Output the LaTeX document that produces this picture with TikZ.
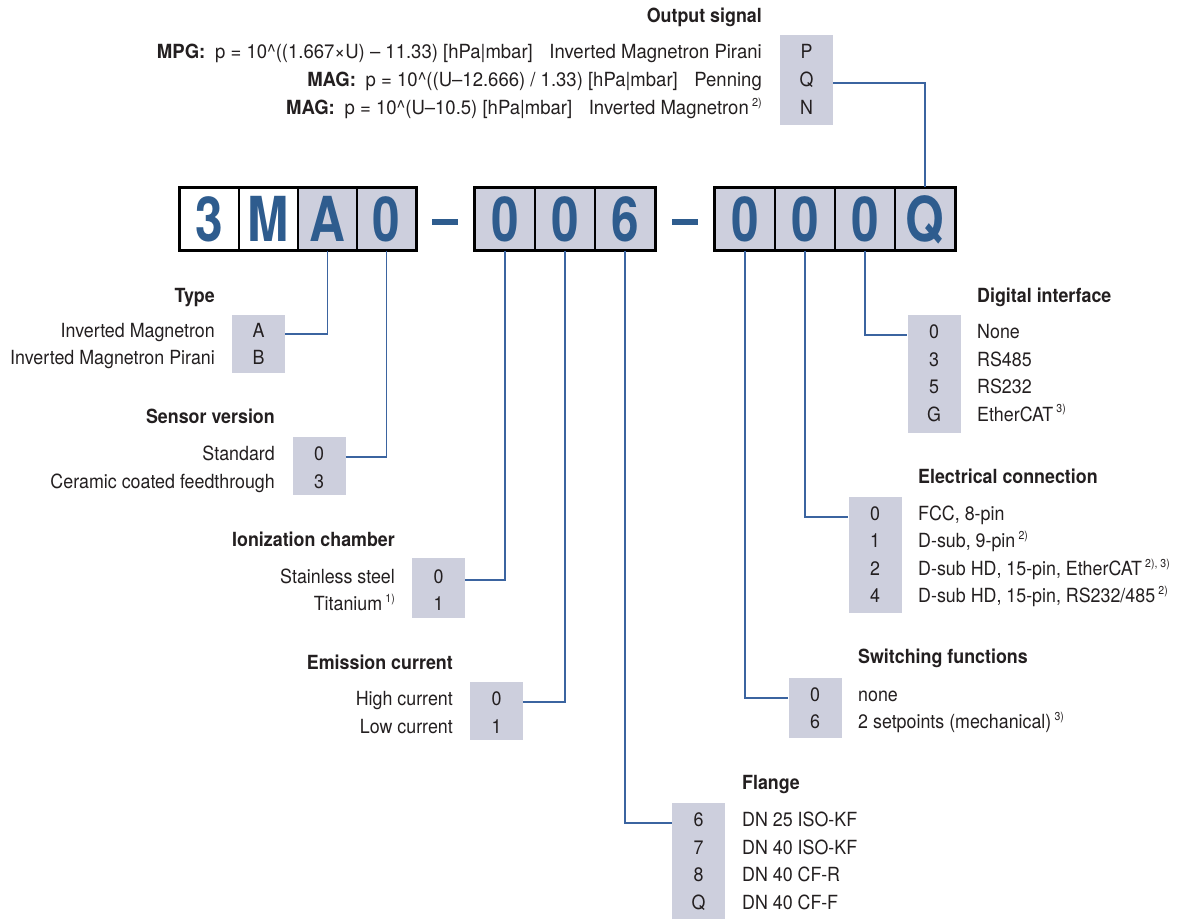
\documentclass[tikz,border=0pt]{standalone}
\usepackage{fontspec}
\setmainfont{TeX Gyre Heros}[FakeStretch=0.915]
\newfontfamily\formfam{TeX Gyre Heros}[FakeStretch=0.95]
\newfontfamily\codefam{TeX Gyre Heros}[FakeStretch=0.8]
\definecolor{optfill}{RGB}{205,207,221}
\definecolor{codeblue}{RGB}{46,92,142}
\definecolor{linecol}{RGB}{59,100,160}
\definecolor{txt}{RGB}{35,31,32}
\newcommand\itemfont{\fontsize{19.5}{22}\selectfont}
\newcommand\fnote[1]{\,\raisebox{0.42em}{\fontsize{11.5}{11.5}\selectfont #1}}
\tikzset{
  opt/.style={fill=optfill, draw=none, minimum width=53pt, inner sep=0pt},
  lbl/.style={inner sep=0pt, text=txt, font=\itemfont, text height=0.72em, text depth=0pt, yshift=-3pt},
  flbl/.style={lbl, font=\formfam\itemfont},
  hdr/.style={lbl, font=\itemfont\bfseries},
  conn/.style={draw=linecol, line width=1.2pt},
  cell/.style={draw=black, line width=1.3pt, fill=optfill, minimum width=59pt, minimum height=62pt,
    inner sep=0pt, text=codeblue, font=\codefam\fontsize{62}{62}\selectfont\bfseries,
    text height=44pt, text depth=0pt},
  wcell/.style={cell, fill=white},
  grp/.style={draw=black, line width=3pt},
  dashbar/.style={fill=codeblue, draw=none, minimum width=26pt, minimum height=6pt, inner sep=0pt},
}
\begin{document}
\begin{tikzpicture}[x=1pt,y=-1pt]
\useasboundingbox (0,0) rectangle (1179,919);

% ---- code boxes
\node[wcell] (c1) at (209.5,219) {3};
\node[wcell] (c2) at (268.5,219) {M};
\node[cell] (c3) at (327.5,219) {A};
\node[cell] (c4) at (386.5,219) {0};
\draw[grp] (c1.north west) rectangle (c4.south east);
\node[dashbar] (d1) at (445,222) {};
\node[cell] (c5) at (505,219) {0};
\node[cell] (c6) at (565,219) {0};
\node[cell] (c7) at (625,219) {6};
\draw[grp] (c5.north west) rectangle (c7.south east);
\node[dashbar] (d2) at (685,222) {};
\node[cell] (c8) at (745,219) {0};
\node[cell] (c9) at (805,219) {0};
\node[cell] (c10) at (865,219) {0};
\node[cell] (c11) at (925,219) {Q};
\draw[grp] (c8.north west) rectangle (c11.south east);

% ---- Output signal
\node[hdr, anchor=east] (hout) at (762,16) {Output signal};
\node[opt, minimum height=90pt] (outbox) at (806.5,80) {};
\node[lbl] (oP) at (806.5,52) {P};
\node[lbl] (oQ) at (806.5,80) {Q};
\node[lbl] (oN) at (806.5,108) {N};
\node[flbl, anchor=east] (t1) at (762,52) {\textbf{MPG:}\hspace{0.5em}p = 10\textasciicircum((1.667×U) – 11.33) [hPa\textbar mbar]\hspace{0.85em}Inverted Magnetron Pirani};
\node[flbl, anchor=east] (t2) at (762,80) {\textbf{MAG:}\hspace{0.5em}p = 10\textasciicircum((U–12.666) / 1.33) [hPa\textbar mbar]\hspace{0.85em}Penning};
\node[flbl, anchor=east] (t3) at (762,108) {\textbf{MAG:}\hspace{0.5em}p = 10\textasciicircum(U–10.5) [hPa\textbar mbar]\hspace{0.85em}Inverted Magnetron\fnote{2)}};
\draw[conn] (c11.north) |- (outbox.east |- oQ);

% ---- Type
\node[hdr, anchor=east] (htype) at (215,296) {Type};
\node[opt, minimum height=58pt] (typebox) at (258.5,344) {};
\node[lbl] (tA) at (258.5,331) {A};
\node[lbl] (tB) at (258.5,358) {B};
\node[lbl, anchor=east] (ta) at (215,331) {Inverted Magnetron};
\node[lbl, anchor=east] (tb) at (215,358) {Inverted Magnetron Pirani};
\draw[conn] (c3.south) |- (typebox.east |- tA);

% ---- Sensor version
\node[hdr, anchor=east] (hsens) at (275,417) {Sensor version};
\node[opt, minimum height=58pt] (sensbox) at (319,466) {};
\node[lbl] (s0) at (319,454) {0};
\node[lbl] (s3) at (319,482) {3};
\node[lbl, anchor=east] (sa) at (275,454) {Standard};
\node[lbl, anchor=east] (sb) at (275,482) {Ceramic coated feedthrough};
\draw[conn] (c4.south) |- (sensbox.east |- s0);

% ---- Ionization chamber
\node[hdr, anchor=east] (hion) at (395,540) {Ionization chamber};
\node[opt, minimum height=60pt] (ionbox) at (438.5,588) {};
\node[lbl] (i0) at (438.5,577) {0};
\node[lbl] (i1) at (438.5,604) {1};
\node[lbl, anchor=east] (ia) at (395,577) {Stainless steel};
\node[lbl, anchor=east] (ib) at (395,604) {Titanium\fnote{1)}};
\draw[conn] (c5.south) |- (ionbox.east |- i0);

% ---- Emission current
\node[hdr, anchor=east] (hemi) at (453,663) {Emission current};
\node[opt, minimum height=58pt] (emibox) at (496.5,711) {};
\node[lbl] (e0) at (496.5,699) {0};
\node[lbl] (e1) at (496.5,727) {1};
\node[lbl, anchor=east] (ea) at (453,699) {High current};
\node[lbl, anchor=east] (eb) at (453,727) {Low current};
\draw[conn] (c6.south) |- (emibox.east |- e0);

% ---- Flange
\node[hdr, anchor=west] (hfl) at (742,783) {Flange};
\node[opt, minimum height=118pt] (flbox) at (698.5,862) {};
\node[lbl] (f6) at (698.5,820) {6};
\node[lbl] (f7) at (698.5,848) {7};
\node[lbl] (f8) at (698.5,875) {8};
\node[lbl] (fQ) at (698.5,903) {Q};
\node[lbl, anchor=west] (fa) at (742,820) {DN 25 ISO-KF};
\node[lbl, anchor=west] (fb) at (742,848) {DN 40 ISO-KF};
\node[lbl, anchor=west] (fc) at (742,875) {DN 40 CF-R};
\node[lbl, anchor=west] (fd) at (742,903) {DN 40 CF-F};
\draw[conn] (c7.south) |- (flbox.west |- f6);

% ---- Switching functions
\node[hdr, anchor=west] (hsw) at (858,657) {Switching functions};
\node[opt, minimum height=60pt] (swbox) at (815,708) {};
\node[lbl] (w0) at (815,695) {0};
\node[lbl] (w6) at (815,722) {6};
\node[lbl, anchor=west] (wa) at (858,695) {none};
\node[lbl, anchor=west] (wb) at (858,722) {2 setpoints (mechanical)\fnote{3)}};
\draw[conn] (c8.south) |- (swbox.west |- w0);

% ---- Electrical connection
\node[hdr, anchor=west] (hel) at (918,477) {Electrical connection};
\node[opt, minimum height=116pt] (elbox) at (875,555) {};
\node[lbl] (l0) at (875,514) {0};
\node[lbl] (l1) at (875,541) {1};
\node[lbl] (l2) at (875,569) {2};
\node[lbl] (l4) at (875,596) {4};
\node[lbl, anchor=west] (la) at (918,514) {FCC, 8-pin};
\node[lbl, anchor=west] (lb) at (918,541) {D-sub, 9-pin\fnote{2)}};
\node[lbl, anchor=west] (lc) at (918,569) {D-sub HD, 15-pin, EtherCAT\fnote{2), 3)}};
\node[lbl, anchor=west] (ld) at (918,596) {D-sub HD, 15-pin, RS232/485\fnote{2)}};
\draw[conn] (c9.south) |- (elbox.west |- l0);

% ---- Digital interface
\node[hdr, anchor=west] (hdig) at (977,296) {Digital interface};
\node[opt, minimum height=118pt] (digbox) at (934,374) {};
\node[lbl] (g0) at (934,332) {0};
\node[lbl] (g3) at (934,359.5) {3};
\node[lbl] (g5) at (934,387) {5};
\node[lbl] (gG) at (934,414.5) {G};
\node[lbl, anchor=west] (ga) at (977,332) {None};
\node[lbl, anchor=west] (gb) at (977,359.5) {RS485};
\node[lbl, anchor=west] (gc) at (977,387) {RS232};
\node[lbl, anchor=west] (gd) at (977,414.5) {EtherCAT\fnote{3)}};
\draw[conn] (c10.south) |- (digbox.west |- g0);
\end{tikzpicture}
\end{document}
